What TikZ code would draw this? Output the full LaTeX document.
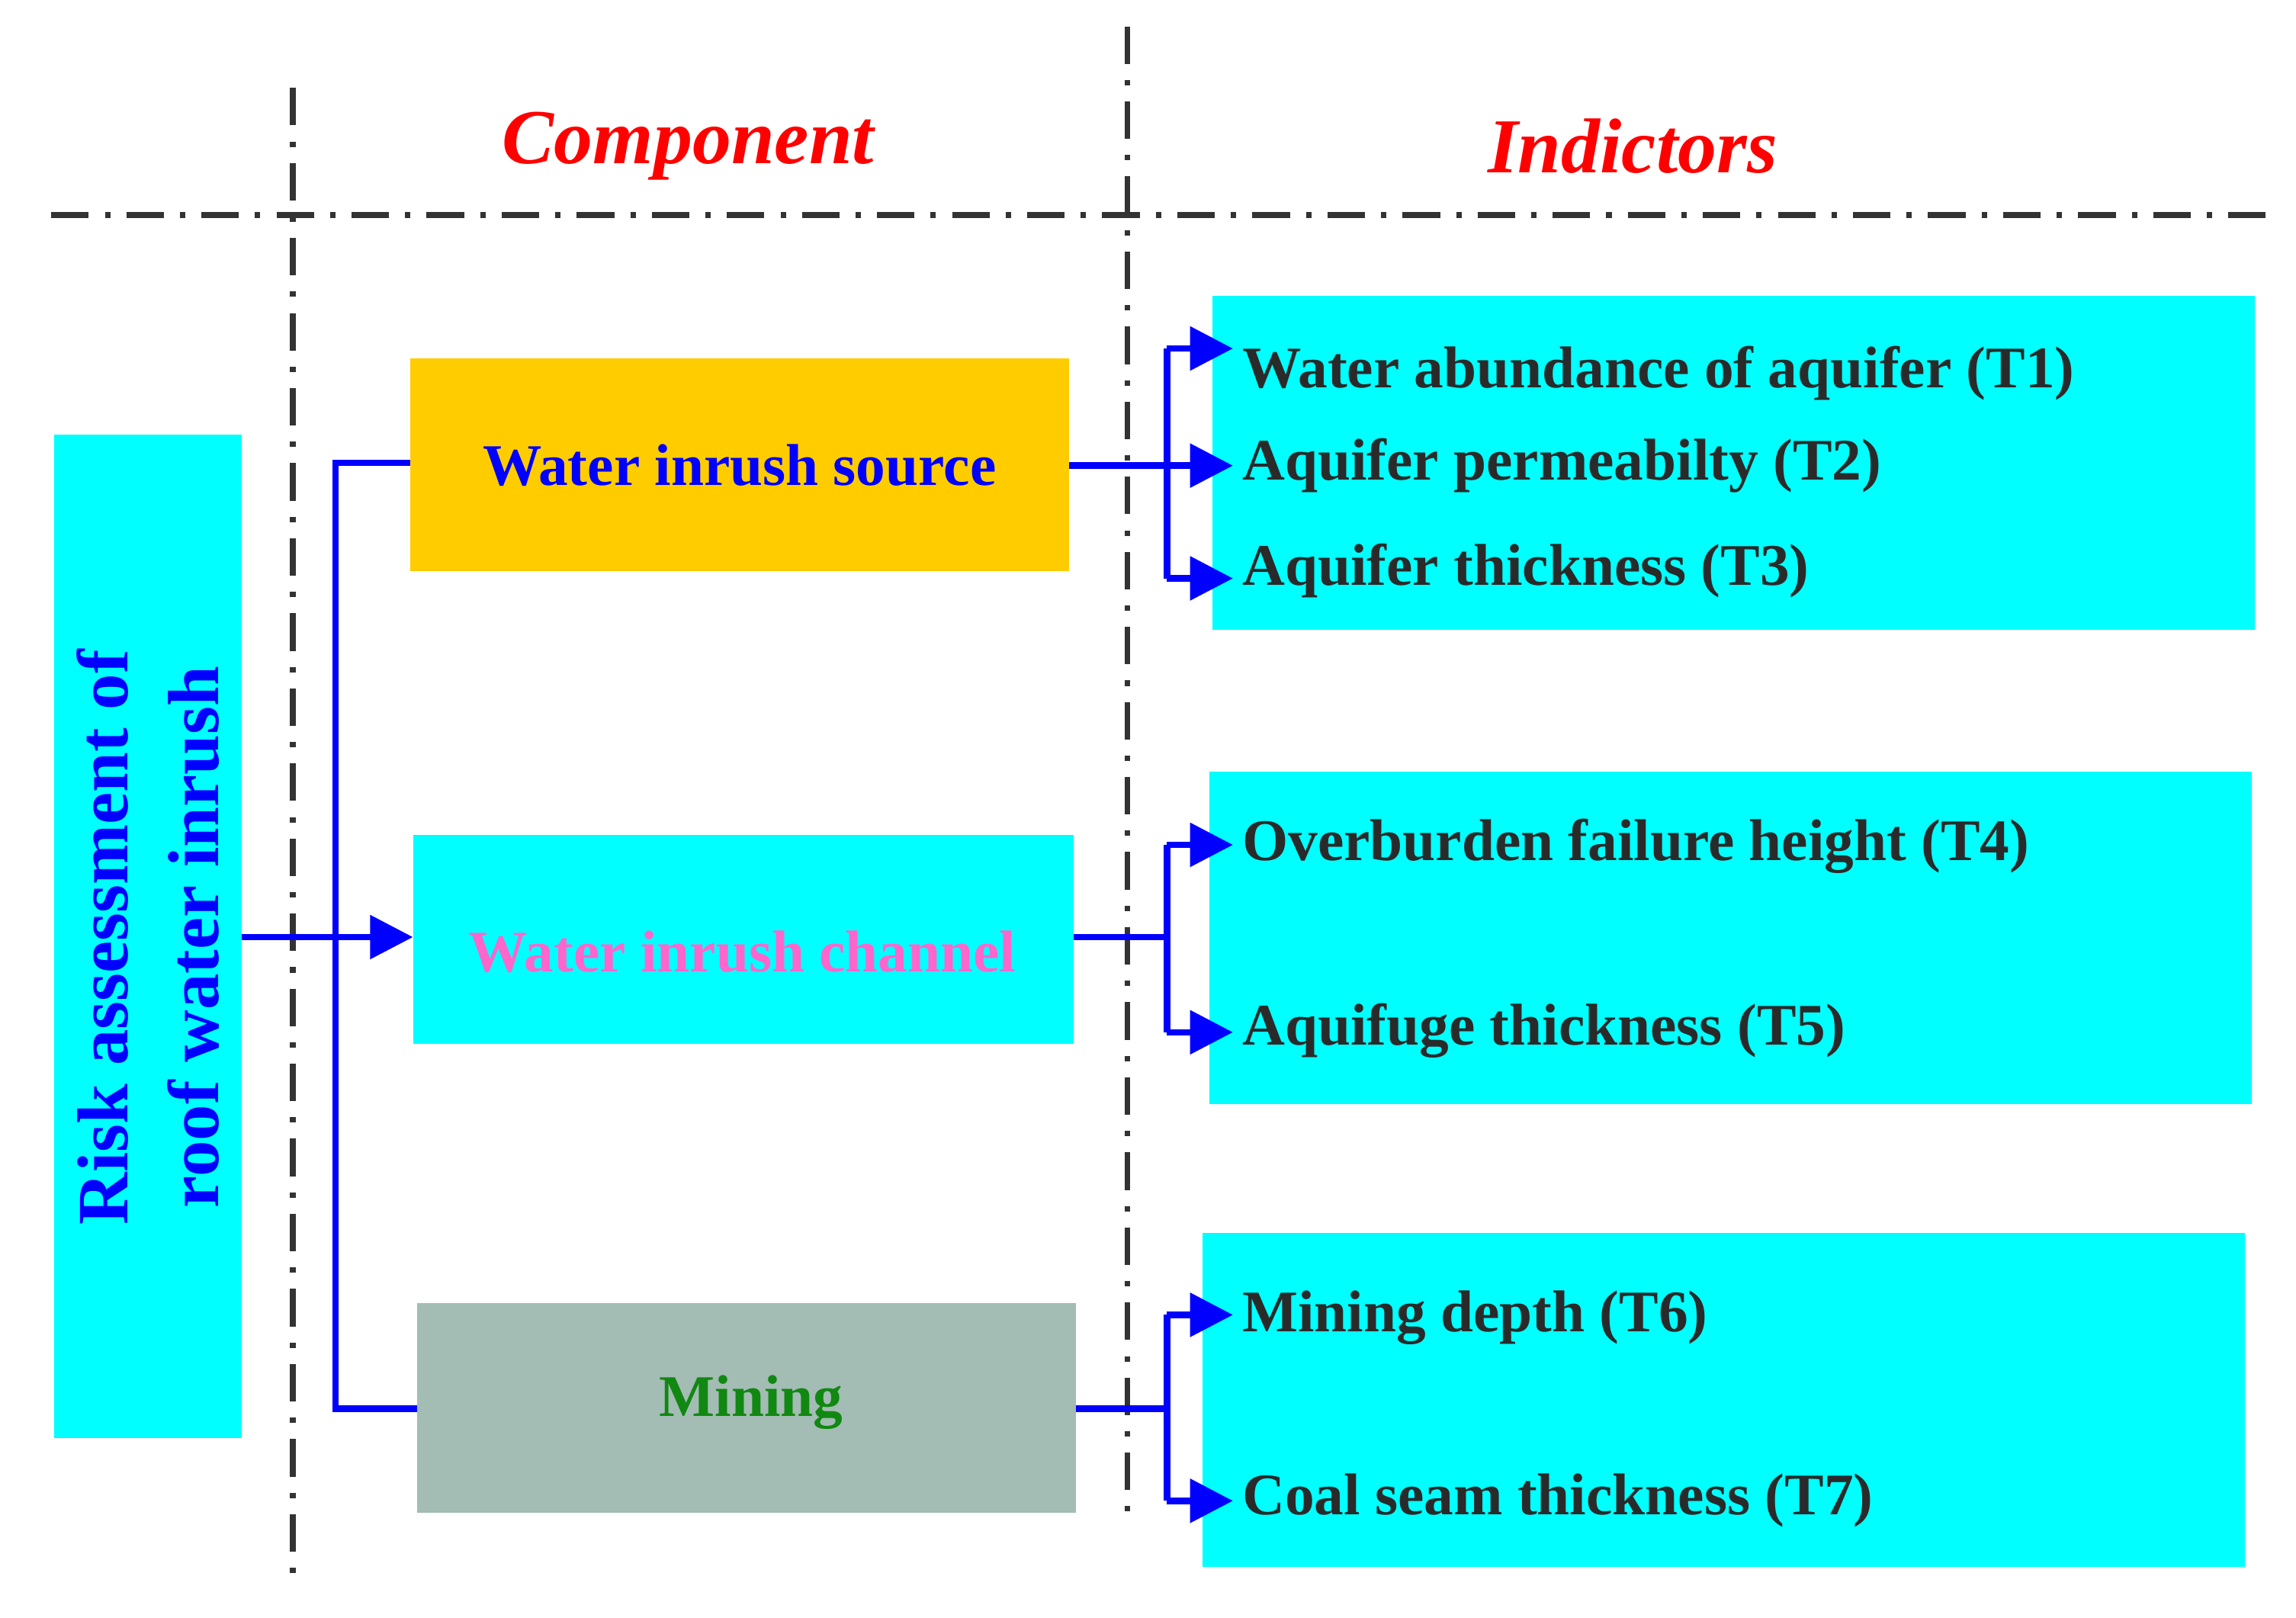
\documentclass[tikz,border=0pt]{standalone}
\usepackage{fontspec}
\setmainfont{Liberation Serif}
\usetikzlibrary{arrows.meta}
\definecolor{cy}{HTML}{00FFFF}
\definecolor{org}{HTML}{FFCC00}
\definecolor{gry}{HTML}{A3BCB4}
\definecolor{pnk}{HTML}{FF66CC}
\definecolor{grn}{HTML}{118811}
\definecolor{txt}{HTML}{2A2A2A}
\begin{document}
\begin{tikzpicture}[x=0.0192cm,y=-0.0192cm,
 dd/.style={line width=2.2pt,draw=black!80,dash pattern=on 14pt off 6pt on 2pt off 6pt},
 con/.style={draw=blue,line width=2.4pt},
 arr/.style={con,-{Triangle[length=16pt,width=16pt]}},
 ind/.style={text=txt,font=\fontsize{22}{26}\selectfont\bfseries,anchor=west},
 comp/.style={font=\fontsize{22}{26}\selectfont\bfseries},
 hd/.style={text=red,font=\fontsize{29}{34}\selectfont\bfseries\itshape}]
\useasboundingbox (0,0) rectangle (1568,1105);
\fill[cy] (37,297) rectangle (165,982);
\fill[org] (280,245) rectangle (730,390);
\fill[cy] (282,570) rectangle (733,713);
\fill[gry] (285,890) rectangle (735,1033);
\fill[cy] (828,202) rectangle (1540,430);
\fill[cy] (826,527) rectangle (1538,754);
\fill[cy] (821,842) rectangle (1533,1070);
\draw[dd] (35,147) -- (1550,147);
\draw[dd] (200,60) -- (200,1085);
\draw[dd] (770,18) -- (770,1040);
\node[hd] (hc) at (470,100) {Component};
\node[hd] (hi) at (1115,100) {Indictors};
\node[rotate=90,text=blue,align=center,font=\fontsize{27}{34}\selectfont\bfseries] (L) at (101,640) {Risk assessment of\\roof water inrush};
\node[comp,text=blue] (S) at (505,318) {Water inrush source};
\node[comp,text=pnk] (C) at (507,650) {Water inrush channel};
\node[comp,text=grn] (M) at (513,958) {Mining};
\coordinate (Lr) at (165,640); \coordinate (Cl) at (282,640);
\coordinate (Sl) at (280,316); \coordinate (Ml) at (285,962);
\draw[arr] (Lr) -- (Cl);
\draw[con] (Sl) -- (229,316) -- (229,962) -- (Ml);
\foreach \y/\n/\t in {255/t1/{Water abundance of aquifer (T1)},318/t2/{Aquifer permeabilty (T2)},390/t3/{Aquifer thickness (T3)},578/t4/{Overburden failure height (T4)},704/t5/{Aquifuge thickness (T5)},900/t6/{Mining depth (T6)},1025/t7/{Coal seam thickness (T7)}}
  \node[ind] (\n) at (842,\y) {\t};
\node[ind,anchor=west] at (0,0) {};
\coordinate (So) at (730,318); \coordinate (Co) at (733,640); \coordinate (Mo) at (735,962);
\draw[con] (So) -- (797,318);
\draw[arr] (797,238) -- (842,238); \draw[arr] (797,318) -- (842,318); \draw[arr] (797,395) -- (842,395);
\draw[con] (842,238) ++(-45,0) -- (797,395);
\draw[con] (Co) -- (797,640);
\draw[con] (797,577) -- (797,705);
\draw[arr] (797,577) -- (842,577); \draw[arr] (797,705) -- (842,705);
\draw[con] (Mo) -- (797,962);
\draw[con] (797,898) -- (797,1025);
\draw[arr] (797,898) -- (842,898); \draw[arr] (797,1025) -- (842,1025);
\end{tikzpicture}
\end{document}
